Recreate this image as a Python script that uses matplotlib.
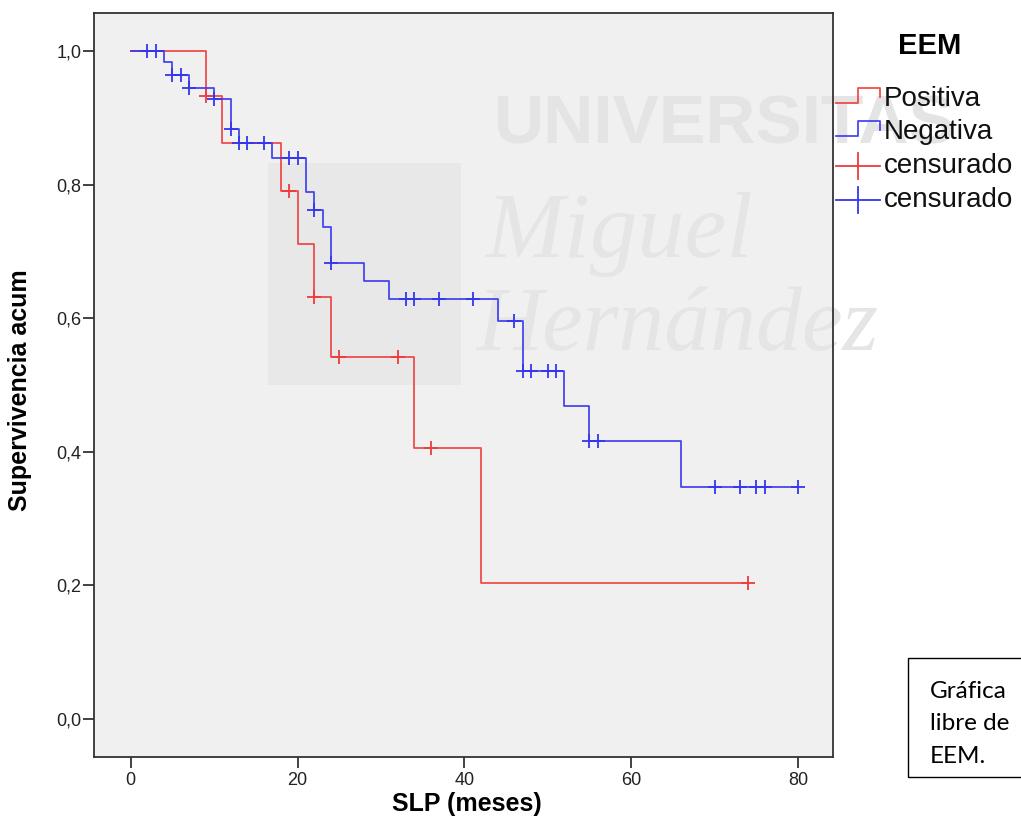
import numpy as np
import matplotlib
matplotlib.use("Agg")
import matplotlib.pyplot as plt
from matplotlib.lines import Line2D
from matplotlib.patches import Rectangle

plt.rcParams["font.family"] = ["Liberation Sans", "DejaVu Sans"]

# Kaplan-Meier steps
pos_times = [0, 9, 11, 18, 20, 22, 24, 34, 42]
pos_surv = [1.0, 0.933, 0.862, 0.790, 0.711, 0.632, 0.542, 0.406, 0.203]
pos_end = 74
pos_censor = [9, 19, 22, 25, 32, 36, 74]

neg_times = [0, 4, 5, 7, 10, 12, 13, 17, 21, 22, 23, 24, 28, 31, 44, 47, 52, 55, 66]
neg_surv = [1.0, 0.984, 0.964, 0.945, 0.928, 0.883, 0.862, 0.840, 0.789, 0.762,
            0.737, 0.683, 0.656, 0.629, 0.596, 0.521, 0.469, 0.416, 0.347]
neg_end = 80
neg_censor = [2, 3, 5, 6, 7, 10, 12, 13, 14, 16, 19, 20, 22, 24, 33, 34, 37, 41,
              46, 47, 48, 50, 51, 55, 56, 70, 73, 75, 76, 80]

x_ticks = [0, 20, 40, 60, 80]
y_ticks = [0.0, 0.2, 0.4, 0.6, 0.8, 1.0]

RED = "#ee3b3b"
BLUE = "#3535f0"
W, H = 1021, 838


def level_at(times, surv, t):
    idx = np.searchsorted(times, t, side="right") - 1
    return np.array(surv)[idx]


fig = plt.figure(figsize=(W / 100, H / 100), dpi=100)
ax = fig.add_axes([94 / W, 1 - 757 / H, (833 - 94) / W, (757 - 13) / H])
ax.set_facecolor("#f0f0f0")

# faint watermark
ax.add_patch(Rectangle((16.5, 0.50), 23.1, 0.332, facecolor="#e8e8e8",
                       edgecolor="none", zorder=0.5, clip_on=False))
ax.text(43.5, 0.888, "UNIVERSITAS", fontsize=50, fontweight="bold", color="#e4e4e4",
        va="center", ha="left", zorder=0.6, clip_on=False)
ax.text(42.5, 0.725, "Miguel", fontsize=68, style="italic", family="Liberation Serif",
        color="#e5e5e5", va="center", ha="left", zorder=0.6, clip_on=False)
ax.text(41.5, 0.585, "Hernández", fontsize=66, style="italic", family="Liberation Serif",
        color="#e5e5e5", va="center", ha="left", zorder=0.6, clip_on=False)

for times, surv, end, cens, col, z in [
    (pos_times, pos_surv, pos_end, pos_censor, RED, 2),
    (neg_times, neg_surv, neg_end, neg_censor, BLUE, 3),
]:
    xs = list(times) + [end]
    ys = list(surv) + [surv[-1]]
    ax.step(xs, ys, where="post", color=col, lw=1.3, alpha=0.9, zorder=z)
    cy = [level_at(times, surv, t) for t in cens]
    ax.plot(cens, cy, "+", color=col, ms=10, mew=1.3, zorder=z)

ax.set_xlim(-4.4, 84.2)
ax.set_ylim(-0.057, 1.057)
ax.set_xticks(x_ticks)
ax.set_yticks(y_ticks)
ax.set_yticklabels([f"{v:.1f}".replace(".", ",") for v in y_ticks])
ax.tick_params(axis="both", direction="out", length=8, width=1.3, color="#333333",
               labelsize=13, labelcolor="#222222")
ax.tick_params(axis="y", pad=1)
ax.tick_params(axis="x", pad=3)
for s in ax.spines.values():
    s.set_color("#333333")
    s.set_linewidth(1.3)

fig.text(20 / W, 1 - 390 / H, "Supervivencia acum", rotation=90, fontsize=18,
         fontweight="bold", ha="center", va="center")
fig.text(467 / W, 1 - 804 / H, "SLP (meses)", fontsize=18, fontweight="bold",
         ha="center", va="center")

# legend drawn by hand to sit like the original
fig.text(930 / W, 1 - 46 / H, "EEM", fontsize=21, fontweight="bold", ha="center", va="center")
labels = ["Positiva", "Negativa", "censurado", "censurado"]
rows = [99, 132, 166, 200]
fy = lambda p: 1 - p / H
for i, (lab, py) in enumerate(zip(labels, rows)):
    col = RED if i % 2 == 0 else BLUE
    if i < 2:
        xs = np.array([836, 858, 858, 880, 880]) / W
        ys = np.array([py + 4, py + 4, py - 11, py - 11, py - 2])
        fig.add_artist(Line2D(xs, [fy(v) for v in ys], color=col, lw=1.3, alpha=0.9))
    else:
        fig.add_artist(Line2D(np.array([836, 880]) / W, [fy(py), fy(py)], color=col, lw=1.3))
        fig.add_artist(Line2D([858 / W, 858 / W], [fy(py - 13), fy(py + 13)], color=col, lw=1.3))
    fig.text(884 / W, fy(py), lab, fontsize=20, ha="left", va="center", color="#111111")

# note box at the bottom right
fig.add_artist(Rectangle((908 / W, 1 - 777 / H), 0.2, 119 / H, transform=fig.transFigure,
                         facecolor="white", edgecolor="black", lw=1.0))
fig.text(930 / W, 1 - 724 / H, "Gráfica\nlibre de\nEEM.", fontsize=17.5, family="Lato",
         ha="left", va="center", linespacing=1.7)

fig.savefig("out.png", dpi=100)
